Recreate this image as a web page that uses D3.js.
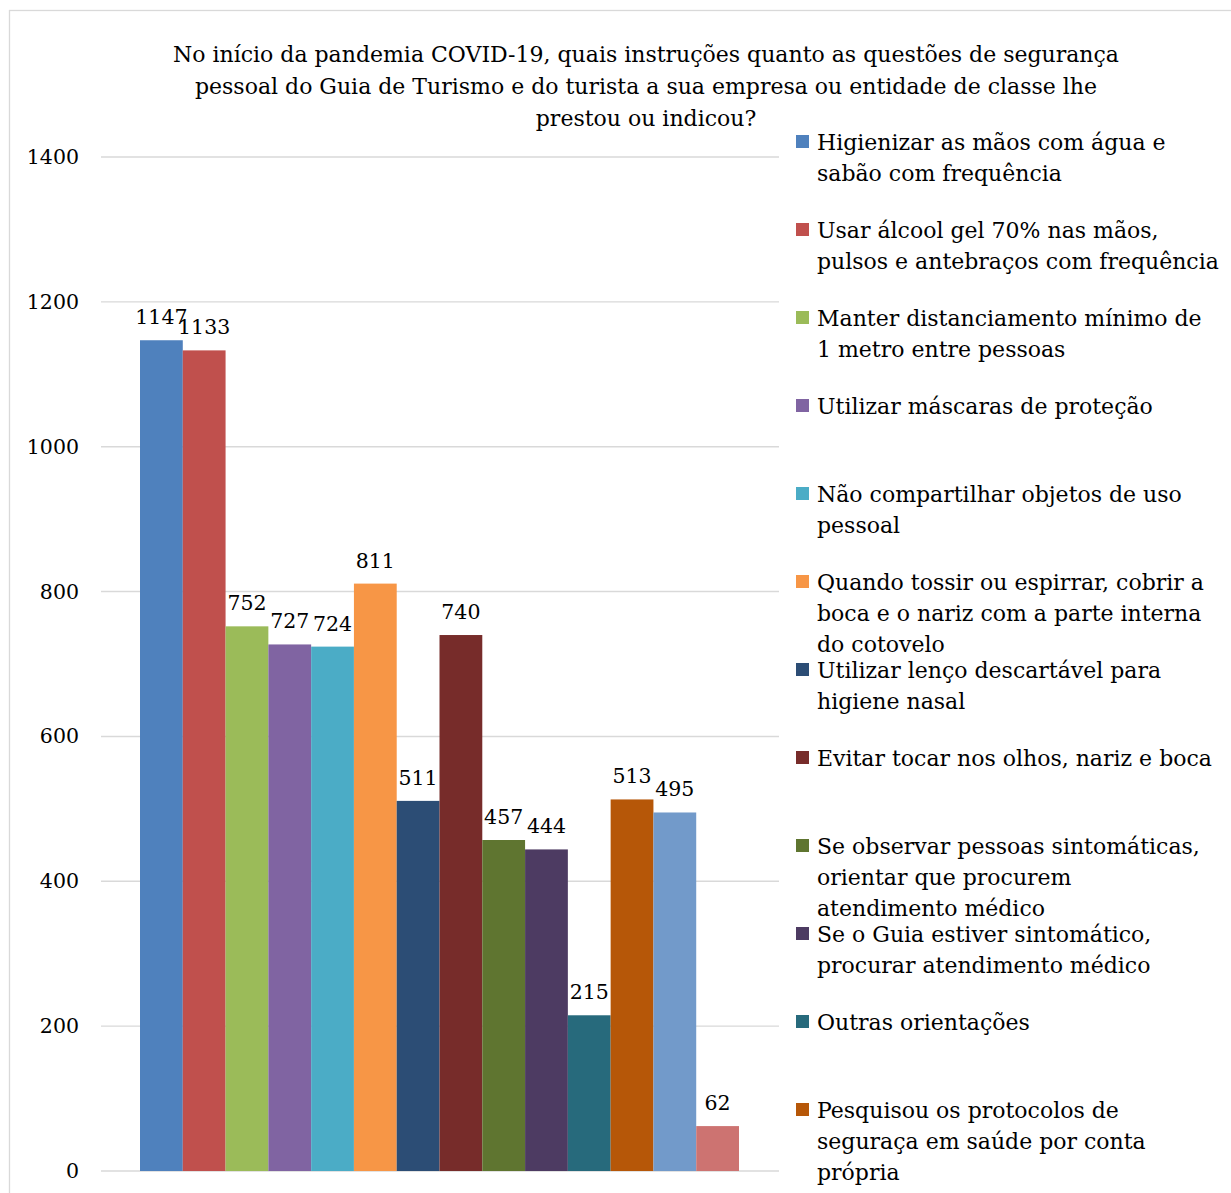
<!DOCTYPE html>
<html><head><meta charset="utf-8">
<script src="https://cdn.jsdelivr.net/npm/d3@7"></script>
<style>
body{margin:0;background:#fff;}
text{font-family:"DejaVu Serif",serif;fill:#000;}
</style></head>
<body><svg id="chart" width="1231" height="1193"></svg>
<script>
const titleLines = [
  "No início da pandemia COVID-19, quais instruções quanto as questões de segurança",
  "pessoal do Guia de Turismo e do turista a sua empresa ou entidade de classe lhe",
  "prestou ou indicou?"
];
const categories = [
  "Higienizar as mãos com água e\nsabão com frequência",
  "Usar álcool gel 70% nas mãos,\npulsos e antebraços com frequência",
  "Manter distanciamento mínimo de\n1 metro entre pessoas",
  "Utilizar máscaras de proteção",
  "Não compartilhar objetos de uso\npessoal",
  "Quando tossir ou espirrar, cobrir a\nboca e o nariz com a parte interna\ndo cotovelo",
  "Utilizar lenço descartável para\nhigiene nasal",
  "Evitar tocar nos olhos, nariz e boca",
  "Se observar pessoas sintomáticas,\norientar que procurem\natendimento médico",
  "Se o Guia estiver sintomático,\nprocurar atendimento médico",
  "Outras orientações",
  "Pesquisou os protocolos de\nseguraça em saúde por conta\nprópria",
  "Série 13",
  "Série 14"
];
const values = [1147, 1133, 752, 727, 724, 811, 511, 740, 457, 444, 215, 513, 495, 62];
const colors = ["#4F81BD","#C0504D","#9BBB59","#8064A2","#4BACC6","#F79646","#2C4D75","#772C2A","#5F7530","#4D3B62","#276A7C","#B65708","#729ACA","#CD7371"];
const yTicks = [0, 200, 400, 600, 800, 1000, 1200, 1400];
const legendVisibleCount = 12;

const svg = d3.select("#chart");
svg.append("rect").attr("x", 9.5).attr("y", 10.5).attr("width", 1260).attr("height", 1220)
  .attr("fill", "none").attr("stroke", "#d9d9d9").attr("stroke-width", 1.3);

svg.append("g").selectAll("text").data(titleLines).join("text")
  .attr("x", 646).attr("y", (d, i) => 62 + i * 32)
  .attr("text-anchor", "middle").style("font-size", "22px").text(d => d);

const y = d3.scaleLinear().domain([0, 1400]).range([1171, 157]);
const x = d3.scaleBand().domain(d3.range(values.length)).range([140, 739]).padding(0);
const plotL = 101, plotR = 779;

svg.append("g").selectAll("line").data(yTicks).join("line")
  .attr("x1", plotL).attr("x2", plotR)
  .attr("y1", d => y(d)).attr("y2", d => y(d))
  .attr("stroke", "#d9d9d9").attr("stroke-width", 1.4);

const yAxis = d3.axisLeft(y).tickValues(yTicks).tickSize(0).tickPadding(0).tickFormat(d3.format("d"));
const ga = svg.append("g").attr("transform", "translate(79,0)").call(yAxis);
ga.select(".domain").remove();
ga.attr("font-family", null).attr("font-size", null);
ga.selectAll("text").style("font-size", "20.5px").style("font-family", '"DejaVu Serif",serif').attr("fill", "#000");

svg.append("g").selectAll("rect").data(values).join("rect")
  .attr("x", (d, i) => x(i)).attr("width", x.bandwidth())
  .attr("y", d => y(d)).attr("height", d => y(0) - y(d))
  .attr("fill", (d, i) => colors[i]);

svg.append("g").selectAll("text").data(values).join("text")
  .attr("x", (d, i) => x(i) + x.bandwidth() / 2)
  .attr("y", d => y(d) - 16)
  .attr("text-anchor", "middle").style("font-size", "20.5px").text(d => d);

const lg = svg.append("g");
const items = lg.selectAll("g").data(categories.slice(0, legendVisibleCount)).join("g")
  .attr("transform", (d, i) => `translate(796,${150 + i * 88})`);
items.append("rect").attr("x", 0).attr("y", -15).attr("width", 13).attr("height", 13)
  .attr("fill", (d, i) => colors[i]);
items.each(function(d) {
  const g = d3.select(this);
  d.split("\n").forEach((line, j) => {
    g.append("text").attr("x", 21).attr("y", j * 31).style("font-size", "22px").text(line);
  });
});
</script></body></html>
